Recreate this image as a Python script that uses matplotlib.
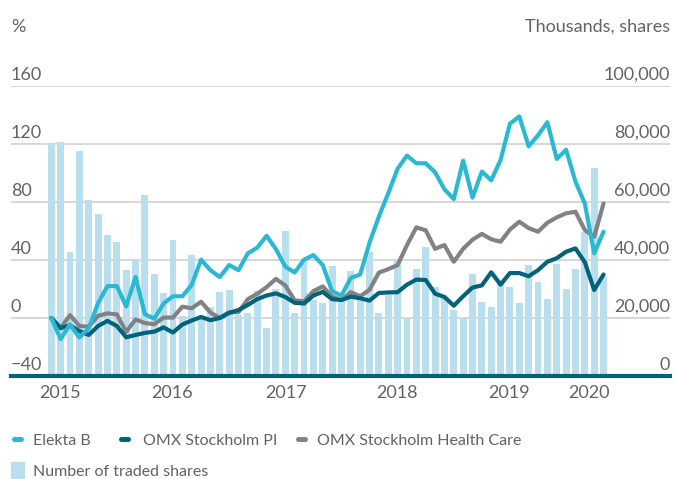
import matplotlib
matplotlib.use("Agg")
import matplotlib.pyplot as plt
from matplotlib.lines import Line2D
from matplotlib.patches import Rectangle
import matplotlib.transforms as mtransforms
import numpy as np

plt.rcParams['font.family'] = ['Lato', 'DejaVu Sans']

# ---------------- data ----------------
elekta = [0, -14.5, -4.5, -13.5, -7, 10.3, 22, 22, 8, 28.3, 2.6, -0.5, 10, 15, 15,
          22.8, 40.2, 33, 28.2, 36.5, 33, 44.6, 48.5, 56.7, 47.5, 35.4, 31.4, 40.2, 43.4, 36.5,
          18.5, 15.5, 27.7, 30, 52, 70, 86, 103, 112, 106.7, 106.7, 100.5, 88.8, 82, 108.5,
          83, 101, 95, 109, 134, 139, 118.4, 126, 135, 109.7, 116, 94, 79, 44.6, 59.5]
omx_pi = [0, -7, -5, -9, -11.7, -5.5, -2, -5.5, -13.3, -11.7, -10.3, -9.4, -6.5, -10, -4.5,
          -1.7, 0.7, -1.5, 0, 3.5, 5.5, 9, 13, 15.5, 17, 14.5, 10.5, 10, 15.5, 18,
          13, 12.4, 14.7, 13.6, 12, 17.3, 17.6, 17.8, 23, 26.5, 26.2, 16.8, 14.5, 8.5, 15,
          21, 22.5, 31.5, 23, 31, 31, 28.8, 33, 38.8, 41.2, 45.7, 48, 38.5, 19.3, 30]
omx_hc = [0, -7, 2, -5.5, -6, 1.5, 3.2, 2.5, -9.5, -1, -3.5, -4.3, 0.3, 0.3, 7.8,
          6.7, 11.2, 3.8, 0, 4, 4, 13, 16.7, 21.3, 27, 22.4, 12.2, 11.5, 18.5, 21.8,
          14.7, 12.4, 17.8, 15, 19.5, 31.3, 33.7, 36.5, 50.3, 62.5, 60.5, 47.7, 50.3, 38.8, 47.7,
          54, 58, 54.3, 52.6, 61, 66.4, 62, 59.5, 65.7, 69.4, 72.2, 73.3, 60.7, 56, 79]
traded_shares = [80450, 80790, 42860, 77690, 60690, 55860, 48620, 46210, 36550, 40240,
                 62410, 35170, 28520, 46900, 20690, 41620, 20000, 23690, 29070, 29660,
                 21030, 21720, 29310, 16550, 30000, 50000, 21720, 39660, 26200, 25170,
                 37930, 26200, 36210, 26900, 42760, 21720, 27930, 40340, 20170, 37000,
                 44480, 30790, 27340, 22760, 20100, 35170, 25520, 23790, 33100, 30690,
                 25170, 38280, 32410, 26550, 38620, 30000, 36900, 49760, 71720, 34240]
year_labels = ['2015', '2016', '2017', '2018', '2019', '2020']
year_pos = [0.93, 12.93, 25.08, 36.93, 48.95, 57.4]
left_ticks = [-40, 0, 40, 80, 120, 160]
right_ticks = [0, 20000, 40000, 60000, 80000, 100000]

# ---------------- style ----------------
C_ELEKTA = '#2BB8D2'
C_PI = '#00637A'
C_HC = '#808285'
C_BAR = '#B9DFEE'
C_GRID = '#CFCFCF'
C_TEXT = '#626366'

W, H = 675, 479
fig = plt.figure(figsize=(W / 100, H / 100), dpi=100)
ax_l, ax_r, ax_b, ax_t = 11, 670, 376, 86
ax = fig.add_axes([ax_l / W, 1 - ax_b / H, (ax_r - ax_l) / W, (ax_b - ax_t) / H])
x = np.arange(len(traded_shares))
ax.set_xlim((ax_l - 51.3) / 9.36, (ax_r - 51.3) / 9.36)
ax.set_ylim(0, 100000)
ax.axis('off')

# grid lines
for v in right_ticks[1:]:
    ax.axhline(v, color=C_GRID, lw=1.2, zorder=0)

ax.bar(x, traded_shares, width=0.74, color=C_BAR, zorder=1)

ax2 = ax.twinx()
ax2.set_ylim(-40, 160)
ax2.set_xlim(ax.get_xlim())
ax2.axis('off')

kw = dict(lw=3.0, solid_joinstyle='round', solid_capstyle='round', zorder=3)
ax2.plot(x, omx_hc, color=C_HC, **kw)
ax2.plot(x, omx_pi, color=C_PI, **kw)
ax2.plot(x, elekta, color=C_ELEKTA, **kw)

# bottom axis line
ax2.axhline(-40, color=C_PI, lw=3, zorder=5, clip_on=False)

# tick labels
fs = 13
blend_l = mtransforms.blended_transform_factory(ax2.transAxes, ax2.transData)
for v in left_ticks:
    lab = f'{v}'.replace('-', '\u2212')
    ax2.annotate(lab, xy=(0, v), xycoords=blend_l, xytext=(0, 4.3), textcoords='offset points',
                 ha='left', va='baseline', fontsize=fs, color=C_TEXT)
blend_r = mtransforms.blended_transform_factory(ax.transAxes, ax.transData)
for v in right_ticks:
    ax.annotate(f'{v:,}', xy=(1, v), xycoords=blend_r, xytext=(0, 4.3), textcoords='offset points',
                ha='right', va='baseline', fontsize=fs, color=C_TEXT)
blend_x = mtransforms.blended_transform_factory(ax.transData, ax.transAxes)
for p, lab in zip(year_pos, year_labels):
    ax.annotate(lab, xy=(p, 0), xycoords=blend_x, xytext=(0, -22 * 0.72), textcoords='offset points',
                ha='center', va='baseline', fontsize=fs, color=C_TEXT)

# header texts
fig.text(11 / W, 1 - 32 / H, '%', ha='left', va='baseline', fontsize=fs, color=C_TEXT)
fig.text(670 / W, 1 - 32 / H, 'Thousands, shares', ha='right', va='baseline', fontsize=fs, color=C_TEXT)

# legend (manual)
lfs = 11.5
def leg_line(px0, color, label, text_px):
    fig.add_artist(Line2D([(px0 + 2.5) / W, (px0 + 9.5) / W], [1 - 439.3 / H] * 2,
                          color=color, lw=3.6, solid_capstyle='round', transform=fig.transFigure))
    fig.text(text_px / W, 1 - 445 / H, label, ha='left', va='baseline', fontsize=lfs, color=C_TEXT)

leg_line(11, C_ELEKTA, 'Elekta B', 33)
leg_line(118, C_PI, 'OMX Stockholm PI', 142.7)
leg_line(295, C_HC, 'OMX Stockholm Health Care', 316.7)
fig.add_artist(Rectangle((11 / W, 1 - 479 / H), 12.5 / W, 17 / H, color=C_BAR,
                         transform=fig.transFigure))
fig.text(33 / W, 1 - 476 / H, 'Number of traded shares', ha='left', va='baseline', fontsize=lfs, color=C_TEXT)

fig.savefig('out.png', dpi=100)
